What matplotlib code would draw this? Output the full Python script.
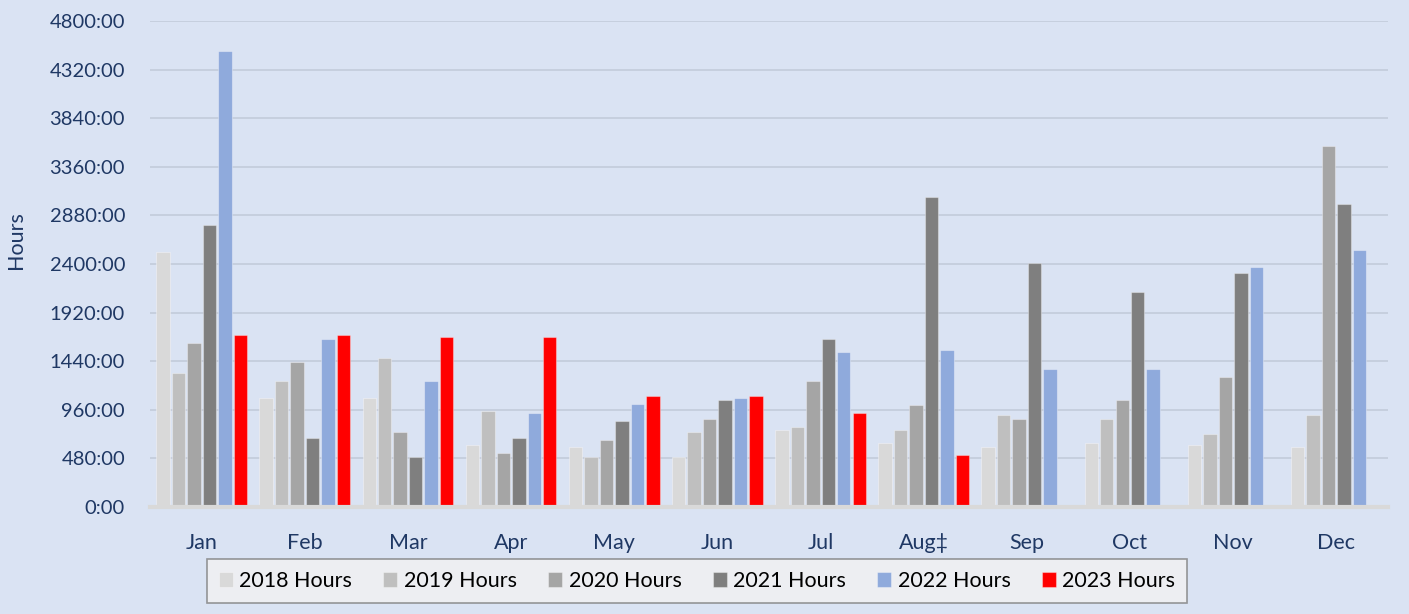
import matplotlib
matplotlib.use('Agg')
import matplotlib.pyplot as plt
from matplotlib.ticker import FuncFormatter, MultipleLocator
import numpy as np

# Datos (horas por mes)
months = ["Jan", "Feb", "Mar", "Apr", "May", "Jun", "Jul", "Aug\u2021", "Sep", "Oct", "Nov", "Dec"]
hours_2018 = [2519, 1077, 1077, 612, 593, 491, 760, 635, 593, 635, 612, 593]
hours_2019 = [1323, 1241, 1472, 948, 491, 741, 793, 760, 909, 866, 721, 909]
hours_2020 = [1620, 1429, 738, 530, 659, 866, 1244, 1011, 866, 1054, 1284, 3562]
hours_2021 = [2785, 678, 491, 678, 846, 1057, 1659, 3059, 2410, 2120, 2308, 2996]
hours_2022 = [4504, 1659, 1241, 928, 1014, 1073, 1534, 1554, 1366, 1366, 2370, 2535]
hours_2023 = [1699, 1699, 1679, 1679, 1093, 1093, 925, 510, np.nan, np.nan, np.nan, np.nan]

series = [hours_2018, hours_2019, hours_2020, hours_2021, hours_2022, hours_2023]
labels = ["2018 Hours", "2019 Hours", "2020 Hours", "2021 Hours", "2022 Hours", "2023 Hours"]
colors = ["#D9D9D9", "#BFBFBF", "#A5A5A5", "#7F7F7F", "#8FAADC", "#FF0000"]

bg = "#DAE3F3"
navy = "#1F3864"
plt.rcParams['font.family'] = ['Lato', 'DejaVu Sans']

fig = plt.figure(figsize=(14.09, 6.14), dpi=100, facecolor=bg)
ax = fig.add_axes([0.1065, 0.1743, 0.8785, 0.7915])
ax.set_facecolor(bg)

x = np.arange(len(months))
step = 0.15
width = 0.13
for i, (vals, lab, col) in enumerate(zip(series, labels, colors)):
    ax.bar(x + (i - 2.5) * step, vals, width=width, color=col, label=lab,
           edgecolor=(1, 1, 1, 0.35), linewidth=0.8, zorder=3)

# Ejes y rejilla
ax.set_xlim(-0.5, 11.5)
ax.set_ylim(0, 4800)
ax.yaxis.set_major_locator(MultipleLocator(480))
ax.yaxis.set_major_formatter(FuncFormatter(lambda v, p: f"{int(round(v))}:00"))
ax.grid(axis='y', color='#C3CBDA', linewidth=1.2, zorder=0)
for s in ['top', 'right', 'left']:
    ax.spines[s].set_visible(False)
ax.spines['bottom'].set_color('#D9D9D9')
ax.spines['bottom'].set_linewidth(3)
ax.spines['bottom'].set_zorder(4)

ax.set_xticks(x)
ax.set_xticklabels(months)
ax.tick_params(axis='both', length=0, labelsize=14.5, labelcolor=navy)
ax.tick_params(axis='x', labelsize=15.5, pad=19)
ax.tick_params(axis='y', pad=18)
ax.set_ylabel("Hours", fontsize=15.5, color=navy)
ax.yaxis.set_label_coords(-0.1, 0.55)

# Leyenda
leg = fig.legend(loc='center', bbox_to_anchor=(697 / 1409, 1 - 581 / 614), ncol=6,
                 fontsize=15.5, frameon=True, fancybox=False, handlelength=0.65,
                 handleheight=0.7, handletextpad=0.3, columnspacing=1.45,
                 borderpad=0.55, borderaxespad=0)
leg.get_frame().set_facecolor('#F2F2F2')
leg.get_frame().set_edgecolor('#7F7F7F')
leg.get_frame().set_linewidth(1.2)

plt.savefig("out.png", dpi=100, facecolor=bg)
